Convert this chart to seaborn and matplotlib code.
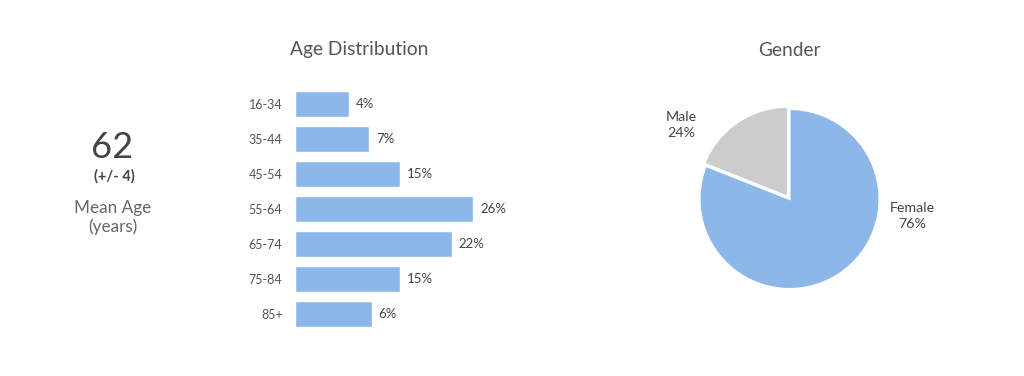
import matplotlib
matplotlib.use("Agg")
import matplotlib.pyplot as plt
import seaborn as sns
import pandas as pd

# Age distribution (bar lengths as drawn, labels as printed)
age_groups = ["16-34", "35-44", "45-54", "55-64", "65-74", "75-84", "85+"]
age_bar_len = [7.9, 10.8, 15.3, 26.0, 22.9, 15.3, 11.2]
age_pct_labels = ["4%", "7%", "15%", "26%", "22%", "15%", "6%"]

# Gender pie (wedge sizes as drawn, labels as printed)
genders = ["Female", "Male"]
gender_sizes = [81, 19]
gender_labels = ["76%", "24%"]

mean_age = "62"
mean_age_ci = "(+/- 4)"

BLUE = "#8BB7E9"
GREY = "#CCCCCC"

sns.set_theme(style="white")
plt.rcParams["font.family"] = ["Lato", "DejaVu Sans"]

fig = plt.figure(figsize=(10.24, 3.76), dpi=100)

# --- bar chart ---
ax = fig.add_axes([295 / 1024, 44.5 / 376, 250 / 1024, 245 / 376])
df = pd.DataFrame({"Age": age_groups, "Share": age_bar_len})
sns.barplot(data=df, x="Share", y="Age", orient="h", color=BLUE,
            width=0.74, saturation=1, ax=ax)
ax.set_xlim(0, 250 / 6.85)
ax.set_xlabel("")
ax.set_ylabel("")
ax.set_xticks([])
sns.despine(ax=ax, left=True, bottom=True)
ax.tick_params(axis="y", length=0, pad=9, labelsize=9, labelcolor="#555555")
ax.bar_label(ax.containers[0], labels=age_pct_labels, padding=5,
             fontsize=9.5, color="#444444")

fig.text(359 / 1024, 1 - 50 / 376, "Age Distribution", ha="center", va="center",
         fontsize=13.8, color="#555555")

# --- pie chart ---
pax = fig.add_axes([677 / 1024, 64.5 / 376, 225 / 1024, 225 / 376])
wedges, _ = pax.pie(gender_sizes, colors=[BLUE, GREY], startangle=90,
                    counterclock=False, explode=[0, 0.03],
                    wedgeprops=dict(edgecolor="white", linewidth=1.5))
pax.set_xlim(-1.25, 1.25)
pax.set_ylim(-1.25, 1.25)
pax.set_aspect("equal")
pax.text(-1.2, 0.82, f"{genders[1]}\n{gender_labels[1]}", ha="center", va="center",
         fontsize=10.3, color="#444444", linespacing=1.45)
pax.text(1.36, -0.19, f"{genders[0]}\n{gender_labels[0]}", ha="center", va="center",
         fontsize=10.3, color="#444444", linespacing=1.45)

fig.text(789 / 1024, 1 - 50 / 376, "Gender", ha="center", va="center",
         fontsize=13.8, color="#555555")

# --- mean age block ---
fig.text(112 / 1024, 1 - 147 / 376, mean_age, ha="center", va="center",
         fontsize=26, color="#444444")
fig.text(114 / 1024, 1 - 176 / 376, mean_age_ci, ha="center", va="center",
         fontsize=10.5, color="#444444", fontweight="bold")
fig.text(113 / 1024, 1 - 208 / 376, "Mean Age", ha="center", va="center",
         fontsize=12.3, color="#666666")
fig.text(113 / 1024, 1 - 227 / 376, "(years)", ha="center", va="center",
         fontsize=12.3, color="#666666")

fig.savefig("out.png", dpi=100, facecolor="white")
